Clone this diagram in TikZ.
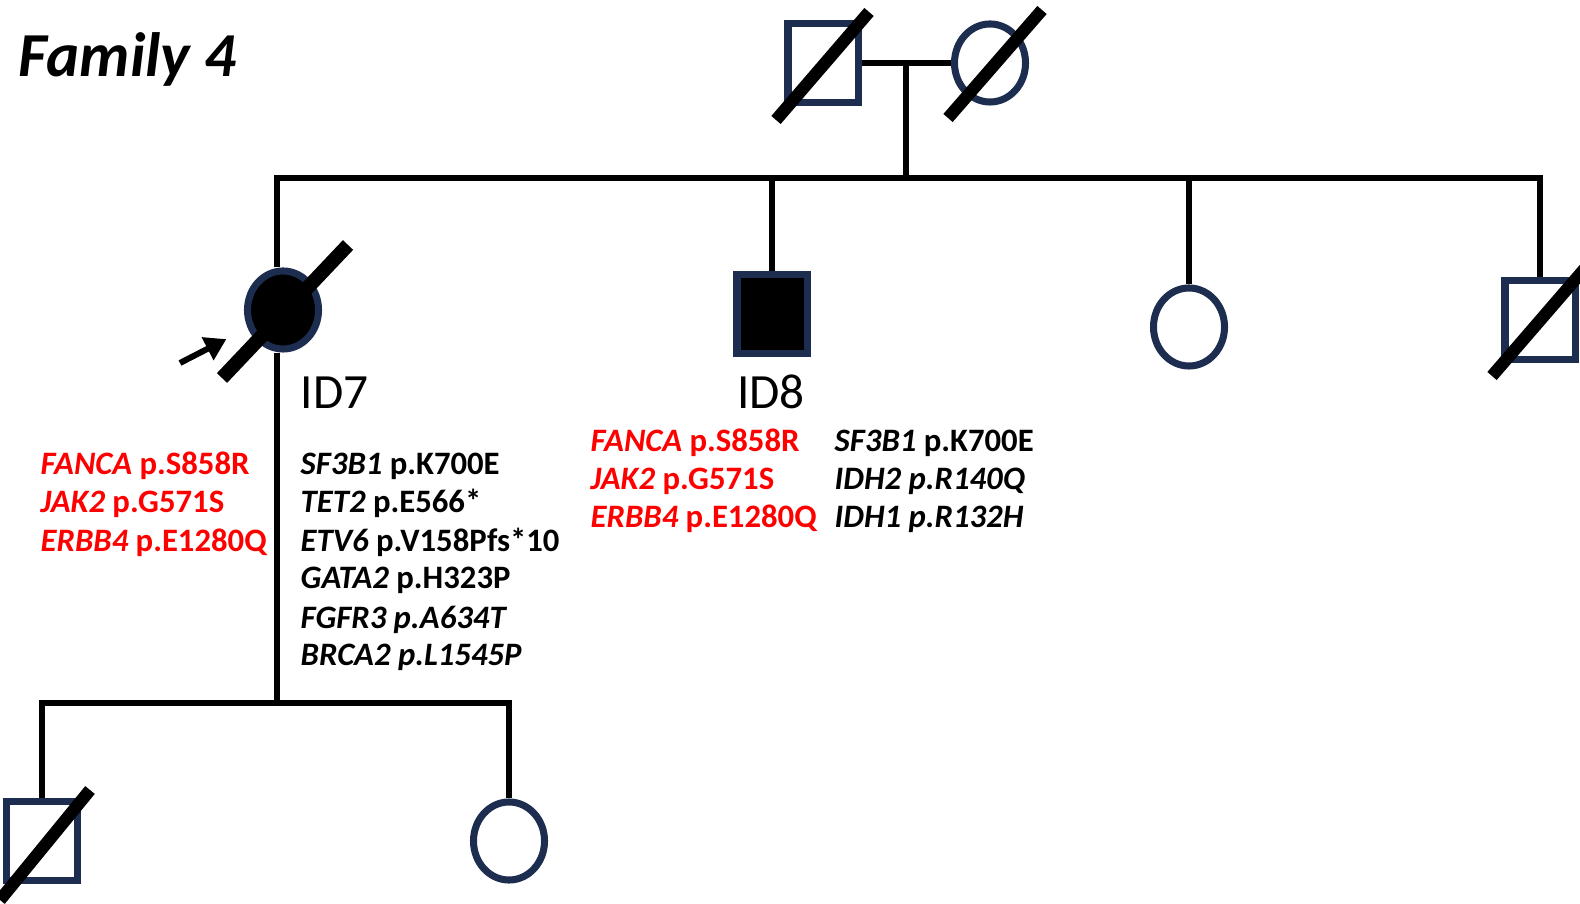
\documentclass[tikz,border=0pt]{standalone}
\usepackage{fontspec}
\setmainfont{Carlito}
\usetikzlibrary{shapes.geometric,arrows.meta}
\definecolor{navy}{RGB}{28,45,80}

\begin{document}
\begin{tikzpicture}[x=0.01cm, y=-0.01cm,
  male/.style={rectangle, draw=navy, line width=2pt, inner sep=0pt, minimum width=0.70cm, minimum height=0.79cm},
  female/.style={ellipse, draw=navy, line width=2pt, inner sep=0pt, minimum width=0.71cm, minimum height=0.78cm},
  affected/.style={fill=black},
  link/.style={line width=1.9pt},
  slash/.style={line width=3.5pt},
  pointer/.style={line width=1.7pt, -{Triangle[length=6pt, width=7pt]}, shorten >=0.24cm},
  variant/.style={anchor=base west, inner sep=0pt, font=\bfseries\fontsize{9.3}{11}\selectfont},
  idlabel/.style={inner sep=0pt, font=\fontsize{14}{17}\selectfont}]

  \useasboundingbox (0,0) rectangle (1580,904);

  % Title
  \node[anchor=base west, inner sep=0pt, font=\bfseries\itshape\fontsize{17.8}{22}\selectfont] (title) at (18,77) {Family 4};

  % Generation I
  \node[male] (gf) at (823,63) {};
  \node[female] (gm) at (990,63) {};

  % Generation II
  \node[female, affected] (id7) at (283,310) {};
  \node[male, affected] (id8) at (772,314) {};
  \node[female] (sis) at (1189,327) {};
  \node[male] (bro) at (1540,320) {};

  % Generation III
  \node[male] (son) at (42,841) {};
  \node[female] (dau) at (509,841) {};

  % Lines of descent
  \coordinate (mar) at (906,63);
  \coordinate (sib) at (277,178);
  \coordinate (kids) at (277,703);
  \draw[link] (gf.east) -- (gm.west);
  \draw[link] (mar) -- (mar |- sib);
  \draw[link] (sib |- id7.north) -- (sib) -- (sib -| bro.north) -- (bro.north);
  \draw[link] (id8.north) -- (id8.north |- sib);
  \draw[link] (sis.north) -- (sis.north |- sib);
  \draw[link] (sib |- id7.south) -- (kids);
  \draw[link] (son.north) |- (kids) -| (dau.north);

  % Deceased
  \draw[slash] (gf.center) ++(-47,57) -- ++(93,-108);
  \draw[slash] (gm.center) ++(-42,55) -- ++(94,-108);
  \draw[slash, line width=4pt] (id7.center) ++(-61,68) -- ++(126,-133);
  \draw[slash] (bro.center) ++(-48,56) -- ++(95,-110);
  \draw[slash] (son.center) ++(-42,59) -- ++(90,-110);

  % Proband
  \coordinate (prob) at (180,363);
  \draw[pointer] (prob) -- (id7);

  % Labels
  \node[idlabel, anchor=base west] (lab7) at (300,409) {ID7};
  \node[idlabel, anchor=base] (lab8) at (771,409) {ID8};

  % Variants ID7
  \foreach \txt/\ypos [count=\i] in {{\textit{FANCA} p.S858R}/475, {\textit{JAK2} p.G571S}/513, {\textit{ERBB4} p.E1280Q}/551}
    \node[variant, red] (germ7-\i) at (40,\ypos) {\txt};
  \foreach \txt/\ypos [count=\i] in {{\textit{SF3B1} p.K700E}/475, {\textit{TET2} p.E566*}/513, {\textit{ETV6} p.V158Pfs*10}/551,
      {\textit{GATA2} p.H323P}/588, {\textit{FGFR3 p.A634T}}/628, {\textit{BRCA2 p.L1545P}}/665}
    \node[variant] (som7-\i) at (300,\ypos) {\txt};

  % Variants ID8
  \foreach \txt/\ypos [count=\i] in {{\textit{FANCA} p.S858R}/452, {\textit{JAK2} p.G571S}/490, {\textit{ERBB4} p.E1280Q}/528}
    \node[variant, red] (germ8-\i) at (590,\ypos) {\txt};
  \foreach \txt/\ypos [count=\i] in {{\textit{SF3B1} p.K700E}/452, {\textit{IDH2 p.R140Q}}/490, {\textit{IDH1 p.R132H}}/528}
    \node[variant] (som8-\i) at (834,\ypos) {\txt};

\end{tikzpicture}
\end{document}
